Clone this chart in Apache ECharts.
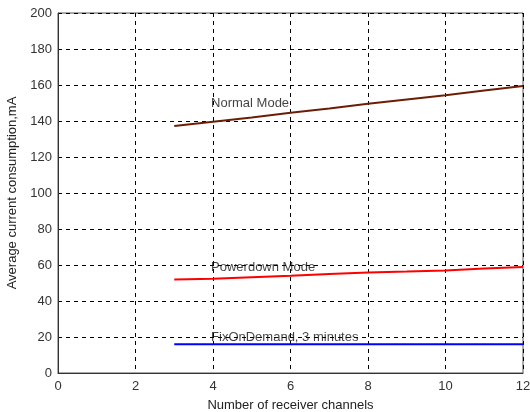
<!DOCTYPE html>
<html>
<head>
<meta charset="utf-8">
<script src="https://cdn.jsdelivr.net/npm/echarts@6/dist/echarts.min.js"></script>
<style>
  html, body { margin: 0; padding: 0; background: #fff; }
  #chart { width: 530px; height: 412px; }
</style>
</head>
<body>
<div id="chart"></div>
<script>
// receiver channels
const channels = [3, 4, 5, 6, 7, 8, 9, 10, 11, 12];
// current consumption, mA
const normalMode = [137.2, 139.6, 142, 144.6, 147, 149.6, 152, 154.3, 157, 159.4];
const powerdownMode = [52, 52.3, 53.2, 54, 55, 55.9, 56.4, 57, 58, 58.9];
const fixOnDemand = [16, 16, 16, 16, 16, 16, 16, 16, 16, 16];
// text labels placed on the chart
const labelTexts = ['Normal Mode', 'Powerdown Mode', 'FixOnDemand, 3 minutes'];
const labelX = [3.95, 3.95, 3.95];
const labelY = [149.5, 58.8, 19.8];

const pairs = (ys) => channels.map((c, i) => [c, ys[i]]);

let myChart = echarts.init(document.getElementById('chart'));
let font = 'Arial, "Liberation Sans", sans-serif';

let option = {
  animation: false,
  grid: {
    left: 58, right: 7, top: 13, bottom: 39,
    outerBoundsMode: 'none',
    containLabel: false,
    show: true,
    borderColor: '#555',
    borderWidth: 1
  },
  xAxis: {
    type: 'value',
    min: 0, max: 12, interval: 2,
    name: 'Number of receiver channels',
    nameLocation: 'middle',
    nameGap: 26,
    nameTextStyle: { color: '#222', fontSize: 13, fontFamily: font },
    axisLine: { lineStyle: { color: '#333' } },
    axisTick: { show: false },
    axisLabel: { color: '#333', fontSize: 13, fontFamily: font, margin: 7 },
    splitLine: { lineStyle: { color: '#000', type: [4, 4], width: 1 } }
  },
  yAxis: {
    type: 'value',
    min: 0, max: 200, interval: 20,
    name: 'Average current consumption,mA',
    nameLocation: 'middle',
    nameGap: 34,
    nameTextStyle: { color: '#222', fontSize: 13, fontFamily: font },
    axisLine: { show: true, lineStyle: { color: '#333' } },
    axisTick: { show: false },
    axisLabel: { color: '#333', fontSize: 13, fontFamily: font, margin: 6 },
    splitLine: { lineStyle: { color: '#000', type: [4, 4], width: 1 } }
  },
  series: [
    {
      name: 'Normal Mode',
      type: 'line',
      data: pairs(normalMode),
      showSymbol: false,
      lineStyle: { color: '#6b1e05', width: 2 }
    },
    {
      name: 'Powerdown Mode',
      type: 'line',
      data: pairs(powerdownMode),
      showSymbol: false,
      lineStyle: { color: '#ff0000', width: 2 }
    },
    {
      name: 'FixOnDemand',
      type: 'line',
      data: pairs(fixOnDemand),
      showSymbol: false,
      lineStyle: { color: '#0000ff', width: 2 }
    },
    {
      type: 'scatter',
      symbolSize: 0,
      silent: true,
      data: labelTexts.map((t, i) => ({ value: [labelX[i], labelY[i]], name: t })),
      label: {
        show: true,
        position: 'right',
        distance: 0,
        formatter: (p) => p.name,
        color: '#111',
        fontSize: 13,
        fontFamily: font
      }
    }
  ]
};

myChart.setOption(option);
</script>
</body>
</html>
